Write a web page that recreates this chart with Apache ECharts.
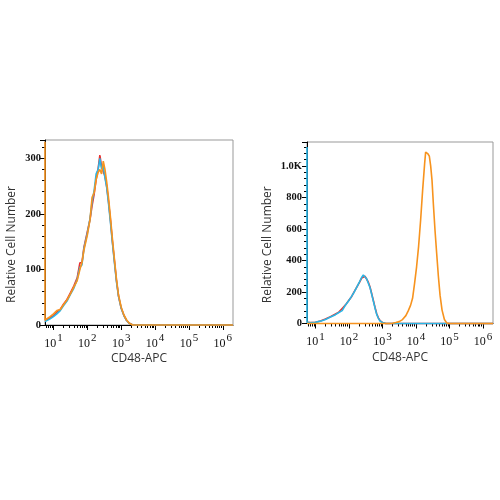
<!DOCTYPE html>
<html><head><meta charset="utf-8">
<script src="https://cdn.jsdelivr.net/npm/echarts@6/dist/echarts.min.js"></script>
<style>html,body{margin:0;padding:0;background:#fff}#c{width:500px;height:500px}</style>
</head><body><div id="c"></div>
<script>
// x values are log10(CD48-APC intensity)
const X_MIN = 0.75, X_MAX = 6.3;
const xMajorExp = [1, 2, 3, 4, 5, 6];
const xMinorFactors = [2, 3, 4, 5, 6, 7, 8, 9];
const leftYMax = 333, leftYStep = 100;
const rightYMax = 1152, rightYStep = 200;

// Left panel histogram
const leftBins   = [0.75,0.80,0.90,1.00,1.10,1.20,1.30,1.40,1.50,1.60,1.70,1.78,1.84,1.90,2.00,2.08,2.14,2.20,2.26,2.32,2.37,2.42,2.47,2.52,2.57,2.62,2.68,2.74,2.80,2.86,2.92,3.00,3.08,3.16,3.24,3.34,4.0,5.0,6.3];
const leftRed    = [8,10,13,17,23,28,38,46,58,70,85,112,112,140,168,190,215,235,262,282,306,285,288,268,250,225,190,150,115,80,52,30,17,8,3,0,0,0,0];
const leftCyan   = [6,8,11,15,20,26,35,43,55,66,82,104,108,138,165,192,222,242,272,280,300,281,286,265,248,222,186,148,112,78,52,30,17,8,3,0,0,0,0];
const leftOrange = [9,11,15,20,26,28,37,45,56,68,80,100,112,135,162,190,230,238,262,275,280,272,295,280,258,232,195,155,118,82,54,32,18,9,3,0,0,0,0];
const leftOrangeEdge = 330;   // events piled at axis minimum

// Right panel: unstained / isotype (red, cyan)
const rightLowBins = [0.75,0.85,1.0,1.15,1.3,1.45,1.6,1.7,1.8,1.9,2.0,2.08,2.16,2.24,2.32,2.38,2.43,2.48,2.53,2.58,2.63,2.68,2.73,2.78,2.83,2.88,2.93,3.0,3.1,6.3];
const rightRed     = [8,6,8,16,28,43,60,72,95,118,148,170,202,232,262,288,300,300,288,262,232,190,146,102,62,36,18,7,0,0];
const rightCyan    = [8,5,7,15,26,41,56,70,82,118,146,172,200,233,266,292,308,296,284,256,228,186,142,98,58,33,16,6,0,0];
const rightCyanEdge = 1120;
// Right panel: stained (orange)
const rightHighBins = [0.75,3.2,3.3,3.4,3.5,3.6,3.7,3.77,3.84,3.9,3.96,4.02,4.08,4.14,4.2,4.26,4.29,4.32,4.36,4.40,4.44,4.48,4.52,4.57,4.62,4.67,4.72,4.78,4.85,4.92,5.0,6.3];
const rightOrange   = [0,0,2,6,12,25,50,80,115,160,255,360,490,655,845,1015,1088,1082,1076,1062,1000,910,760,590,443,300,180,85,25,3,0,0];

const RED = '#e8312f', CYAN = '#29b6e6', ORANGE = '#f7931e';

const pairs = (bins, vals) => bins.map((x, i) => [x, vals[i]]);
const minorTicks = [];
for (let n = 0; n <= 6; n++) xMinorFactors.forEach(k => {
  const v = n + Math.log10(k);
  if (v > X_MIN && v < X_MAX) minorTicks.push(v);
});

const serif = 'Liberation Serif', sans = 'Open Sans';

function xMain(gi) {
  return {
    type: 'value', gridIndex: gi, min: X_MIN, max: X_MAX, position: 'bottom',
    axisLine: { show: true, onZero: false, lineStyle: { color: '#000', width: 1 } },
    axisTick: { show: true, customValues: xMajorExp, length: 5, lineStyle: { color: '#000' } },
    axisLabel: {
      customValues: xMajorExp, margin: 8,
      formatter: v => '{b|10}{s|' + v + '}',
      rich: {
        b: { fontFamily: serif, fontSize: 12, color: '#111' },
        s: { fontFamily: serif, fontSize: 11, color: '#111', padding: [0, 0, 10, 1] }
      }
    },
    splitLine: { show: false },
    name: 'CD48-APC', nameLocation: 'middle', nameGap: 28,
    nameTextStyle: { fontFamily: sans, fontSize: 12, color: '#333' }
  };
}
function xMinor(gi) {
  return {
    type: 'value', gridIndex: gi, min: X_MIN, max: X_MAX, position: 'bottom',
    axisLine: { show: false, onZero: false },
    axisTick: { show: true, customValues: minorTicks, length: 3, lineStyle: { color: '#000' } },
    axisLabel: { show: false }, splitLine: { show: false }
  };
}
function yAxis(gi, max, step, fmt, gap, margin) {
  return {
    type: 'value', gridIndex: gi, min: 0, max: max, interval: step,
    axisLine: { show: true, onZero: false, lineStyle: { color: '#000', width: 1 } },
    axisTick: { show: true, length: 5, lineStyle: { color: '#000' } },
    minorTick: { show: true, splitNumber: 5, length: 3, lineStyle: { color: '#000' } },
    axisLabel: { fontFamily: serif, fontWeight: 'bold', fontSize: 10.5, color: '#111', margin: margin, showMaxLabel: false, formatter: fmt },
    splitLine: { show: false },
    name: 'Relative Cell Number', nameLocation: 'middle', nameGap: gap,
    nameTextStyle: { fontFamily: sans, fontSize: 12, color: '#333', padding: [0, 24, 0, 0] }
  };
}
function line(name, data, color, xi, yi) {
  return { name, type: 'line', data, xAxisIndex: xi, yAxisIndex: yi, showSymbol: false, symbol: 'none',
    clip: false, z: 10, lineStyle: { color, width: 1.6 }, itemStyle: { color } };
}

const chart = echarts.init(document.getElementById('c'));
chart.setOption({
  animation: false,
  grid: [
    { left: 45, right: 267, top: 140, bottom: 175, show: true, borderColor: '#999', borderWidth: 1 },
    { left: 307, right: 7, top: 142, bottom: 176.5, show: true, borderColor: '#999', borderWidth: 1 }
  ],
  xAxis: [xMain(0), xMinor(0), xMain(1), xMinor(1)],
  yAxis: [
    yAxis(0, leftYMax, leftYStep, v => String(v), 27, 4),
    yAxis(1, rightYMax, rightYStep, v => v >= 1000 ? (v / 1000).toFixed(1) + 'K' : String(v), 33, 5)
  ],
  series: [
    line('Left red', pairs(leftBins, leftRed), RED, 0, 0),
    line('Left cyan', pairs(leftBins, leftCyan), CYAN, 0, 0),
    line('Left orange', [[X_MIN, leftOrangeEdge]].concat(pairs(leftBins, leftOrange)), ORANGE, 0, 0),
    line('Right red', pairs(rightLowBins, rightRed), RED, 2, 1),
    line('Right cyan', [[X_MIN, rightCyanEdge]].concat(pairs(rightLowBins, rightCyan)), CYAN, 2, 1),
    line('Right orange', pairs(rightHighBins, rightOrange), ORANGE, 2, 1)
  ]
});
</script></body></html>
